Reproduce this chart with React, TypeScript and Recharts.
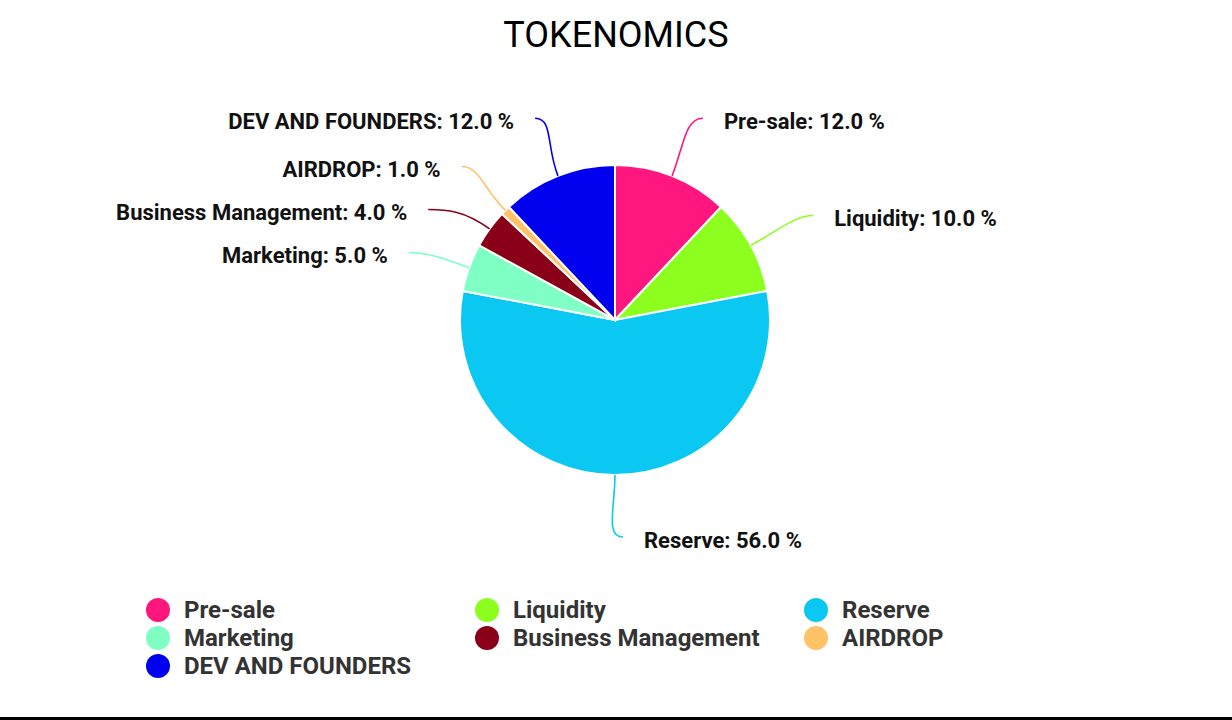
import React from 'react';
import { PieChart, Pie, Cell, Legend } from 'recharts';

const names = ['Pre-sale', 'Liquidity', 'Reserve', 'Marketing', 'Business Management', 'AIRDROP', 'DEV AND FOUNDERS'];
const shares = [12, 10, 56, 5, 4, 1, 12];
const colors = ['#ff167f', '#8cff1f', '#0ac8f2', '#7fffc4', '#8a0018', '#ffc266', '#0000ee'];

const data = names.map((name, i) => ({ name, value: shares[i] }));

const RADIAN = Math.PI / 180;
const total = shares.reduce((a, b) => a + b, 0);

// where each label line ends, spread apart so labels on one side don't collide
function labelEnds(cx: number, cy: number, r: number, gap = 43) {
  let acc = 0;
  const pts = shares.map((v, i) => {
    const mid = (acc + v / 2) / total;
    acc += v;
    const a = 90 - 360 * mid;
    return { i, right: mid <= 0.5, y: cy + r * Math.sin(-a * RADIAN), x: 0 };
  });
  [true, false].forEach((side) => {
    const s = pts.filter((p) => p.right === side).sort((a, b) => a.y - b.y);
    for (let k = 1; k < s.length; k++) {
      if (s[k].y < s[k - 1].y + gap) s[k].y = s[k - 1].y + gap;
    }
  });
  pts.forEach((p) => {
    const dy = p.y - cy;
    const dx = Math.sqrt(Math.max(r * r - dy * dy, 0));
    p.x = p.right ? cx + dx + 8 : cx - dx;
  });
  return pts;
}

const renderLabel = (props: any) => {
  const { cx, cy, midAngle, outerRadius, index, name, value, fill } = props;
  const ends = labelEnds(cx, cy, outerRadius + 62);
  const end = ends[index];
  const sx = cx + outerRadius * Math.cos(-midAngle * RADIAN);
  const sy = cy + outerRadius * Math.sin(-midAngle * RADIAN);
  const c1x = cx + (outerRadius + 32) * Math.cos(-midAngle * RADIAN);
  const c1y = cy + (outerRadius + 32) * Math.sin(-midAngle * RADIAN);
  const dir = end.right ? 1 : -1;
  const c2x = end.x - dir * 18;
  const path = `M${sx},${sy} C${c1x},${c1y} ${c2x},${end.y} ${end.x},${end.y}`;
  return (
    <g>
      <path d={path} stroke={fill} strokeWidth={1.6} fill="none" />
      <text
        x={end.x + dir * 21}
        y={end.y + 3}
        textAnchor={end.right ? 'start' : 'end'}
        dominantBaseline="central"
        fill="#111"
        fontSize={22}
        fontWeight={700}
        fontFamily="Roboto"
      >
        {`${name}: ${Number(value).toFixed(1)} %`}
      </text>
    </g>
  );
};

const renderLegend = () => (
  <div
    style={{
      display: 'grid',
      gridTemplateColumns: 'repeat(3, 329px)',
      rowGap: 4,
      fontFamily: 'Roboto',
    }}
  >
    {names.map((name, i) => (
      <div key={`leg-${i}`} style={{ display: 'flex', alignItems: 'center', height: 24 }}>
        <span
          style={{
            width: 24,
            height: 24,
            borderRadius: 12,
            background: colors[i],
            display: 'inline-block',
            marginRight: 14,
            flexShrink: 0,
          }}
        />
        <span style={{ fontSize: 24, fontWeight: 700, color: '#333', whiteSpace: 'nowrap' }}>{name}</span>
      </div>
    ))}
  </div>
);

export default function App() {
  return (
    <div
      style={{
        position: 'absolute',
        left: 0,
        top: 0,
        width: 1232,
        height: 720,
        background: '#fff',
        overflow: 'hidden',
      }}
    >
      <div
        style={{
          position: 'absolute',
          top: 14,
          width: 1232,
          textAlign: 'center',
          fontFamily: 'Roboto',
          fontSize: 36,
          color: '#000',
        }}
      >
        TOKENOMICS
      </div>
      <PieChart width={1232} height={720} margin={{ top: 0, right: 0, bottom: 0, left: 0 }}>
        <Pie
          data={data}
          dataKey="value"
          nameKey="name"
          cx={615}
          cy={320}
          outerRadius={155}
          startAngle={90}
          endAngle={-270}
          stroke="#ffffff"
          strokeWidth={2}
          label={renderLabel}
          labelLine={false}
          isAnimationActive={false}
        >
          {data.map((entry, index) => (
            <Cell key={`cell-${index}`} fill={colors[index]} />
          ))}
        </Pie>
        <Legend
          content={renderLegend}
          wrapperStyle={{ left: 146, top: 598, width: 1000 }}
        />
      </PieChart>
      <div style={{ position: 'absolute', left: 0, top: 717, width: 1232, height: 3, background: '#000' }} />
    </div>
  );
}
